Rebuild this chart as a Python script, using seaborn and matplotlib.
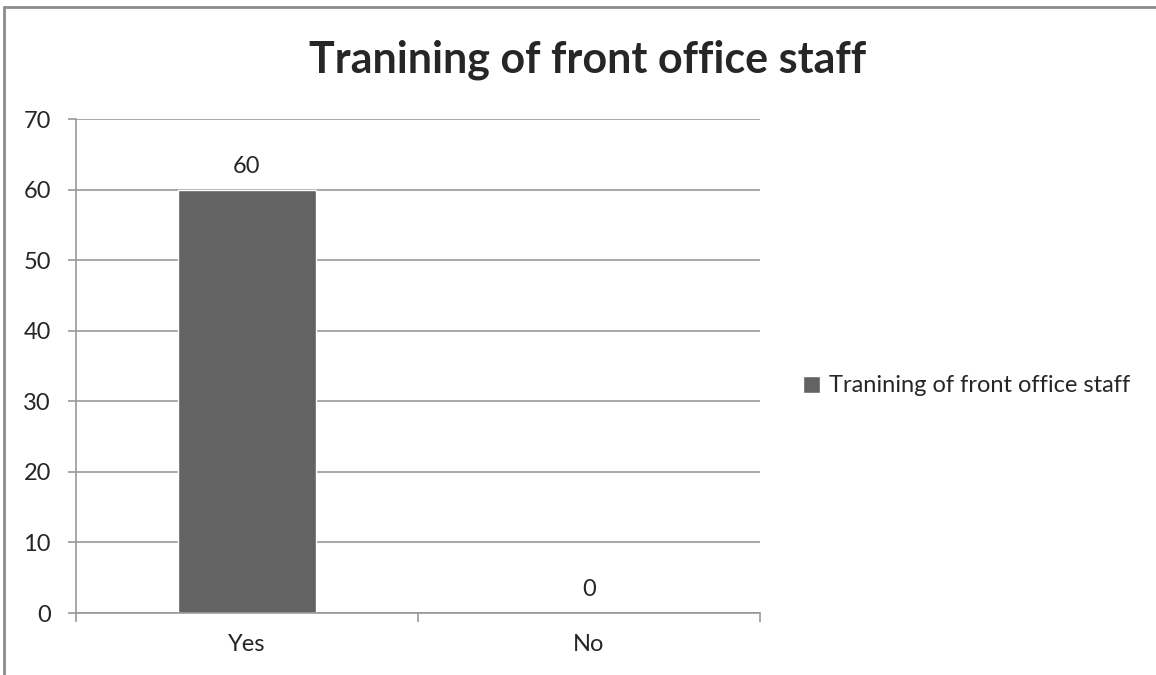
import matplotlib.pyplot as plt
import pandas as pd
import seaborn as sns
from matplotlib.lines import Line2D

TITLE = "Tranining of front office staff"
categories = ["Yes", "No"]
values = [60, 0]
y_ticks = [0, 10, 20, 30, 40, 50, 60, 70]

BAR_COLOR = "#636363"
GRID_COLOR = "#989898"
W, H = 1156, 675


def main() -> None:
    sns.set_theme(style="white")
    plt.rcParams["font.family"] = ["Lato", "DejaVu Sans"]

    df = pd.DataFrame({"answer": categories, "count": values})

    fig = plt.figure(figsize=(W / 100, H / 100), dpi=100)
    ax = fig.add_axes([76 / W, 62 / H, 684 / W, 494 / H])

    sns.barplot(data=df, x="answer", y="count", color=BAR_COLOR, width=0.404,
                saturation=1, label=TITLE, ax=ax)

    ax.set_ylim(0, 70)
    ax.set_xlim(-0.5, 1.5)
    ax.set_yticks(y_ticks)
    ax.yaxis.grid(True, color=GRID_COLOR, linewidth=1.2)
    ax.set_axisbelow(True)
    for side in ["top", "right"]:
        ax.spines[side].set_visible(False)
    for side in ["left", "bottom"]:
        ax.spines[side].set_color(GRID_COLOR)
        ax.spines[side].set_linewidth(1.2)

    ax.set_xlabel("")
    ax.set_ylabel("")
    ax.set_xticks([-0.5, 0.5, 1.5], minor=False)
    ax.set_xticklabels([])
    ax.set_xticks([0, 1], minor=True)
    ax.set_xticklabels(categories, minor=True)
    ax.tick_params(axis="x", which="major", length=6.5, width=1.2, color=GRID_COLOR,
                   direction="out", bottom=True)
    ax.tick_params(axis="x", which="minor", length=0, labelsize=17, pad=15)
    ax.tick_params(axis="y", length=6, width=1.2, color=GRID_COLOR, left=True,
                   labelsize=17, pad=12)

    ax.bar_label(ax.containers[0], labels=[str(v) for v in values],
                 padding=9, fontsize=17)

    handles, labels = ax.get_legend_handles_labels()
    if ax.get_legend() is not None:
        ax.get_legend().remove()
    fig.legend(handles, labels, loc="center left",
               bbox_to_anchor=(803 / W, 1 - 386 / H),
               bbox_transform=fig.transFigure, frameon=False, fontsize=17,
               borderpad=0, borderaxespad=0, handlelength=0.7, handleheight=0.7,
               handletextpad=0.4)

    fig.text(588 / W, 1 - 72 / H, TITLE, ha="center", va="baseline",
             fontsize=31, fontweight="bold")

    # outer chart border (cut off at right and bottom)
    fig.add_artist(Line2D([3.5 / W, 3.5 / W], [0, 1 - 7 / H],
                          transform=fig.transFigure, color="#8c8c8c", linewidth=2))
    fig.add_artist(Line2D([3.5 / W, 1], [1 - 7 / H, 1 - 7 / H],
                          transform=fig.transFigure, color="#8c8c8c", linewidth=2))

    fig.savefig("out.png", dpi=100)
    plt.close(fig)


if __name__ == "__main__":
    main()
